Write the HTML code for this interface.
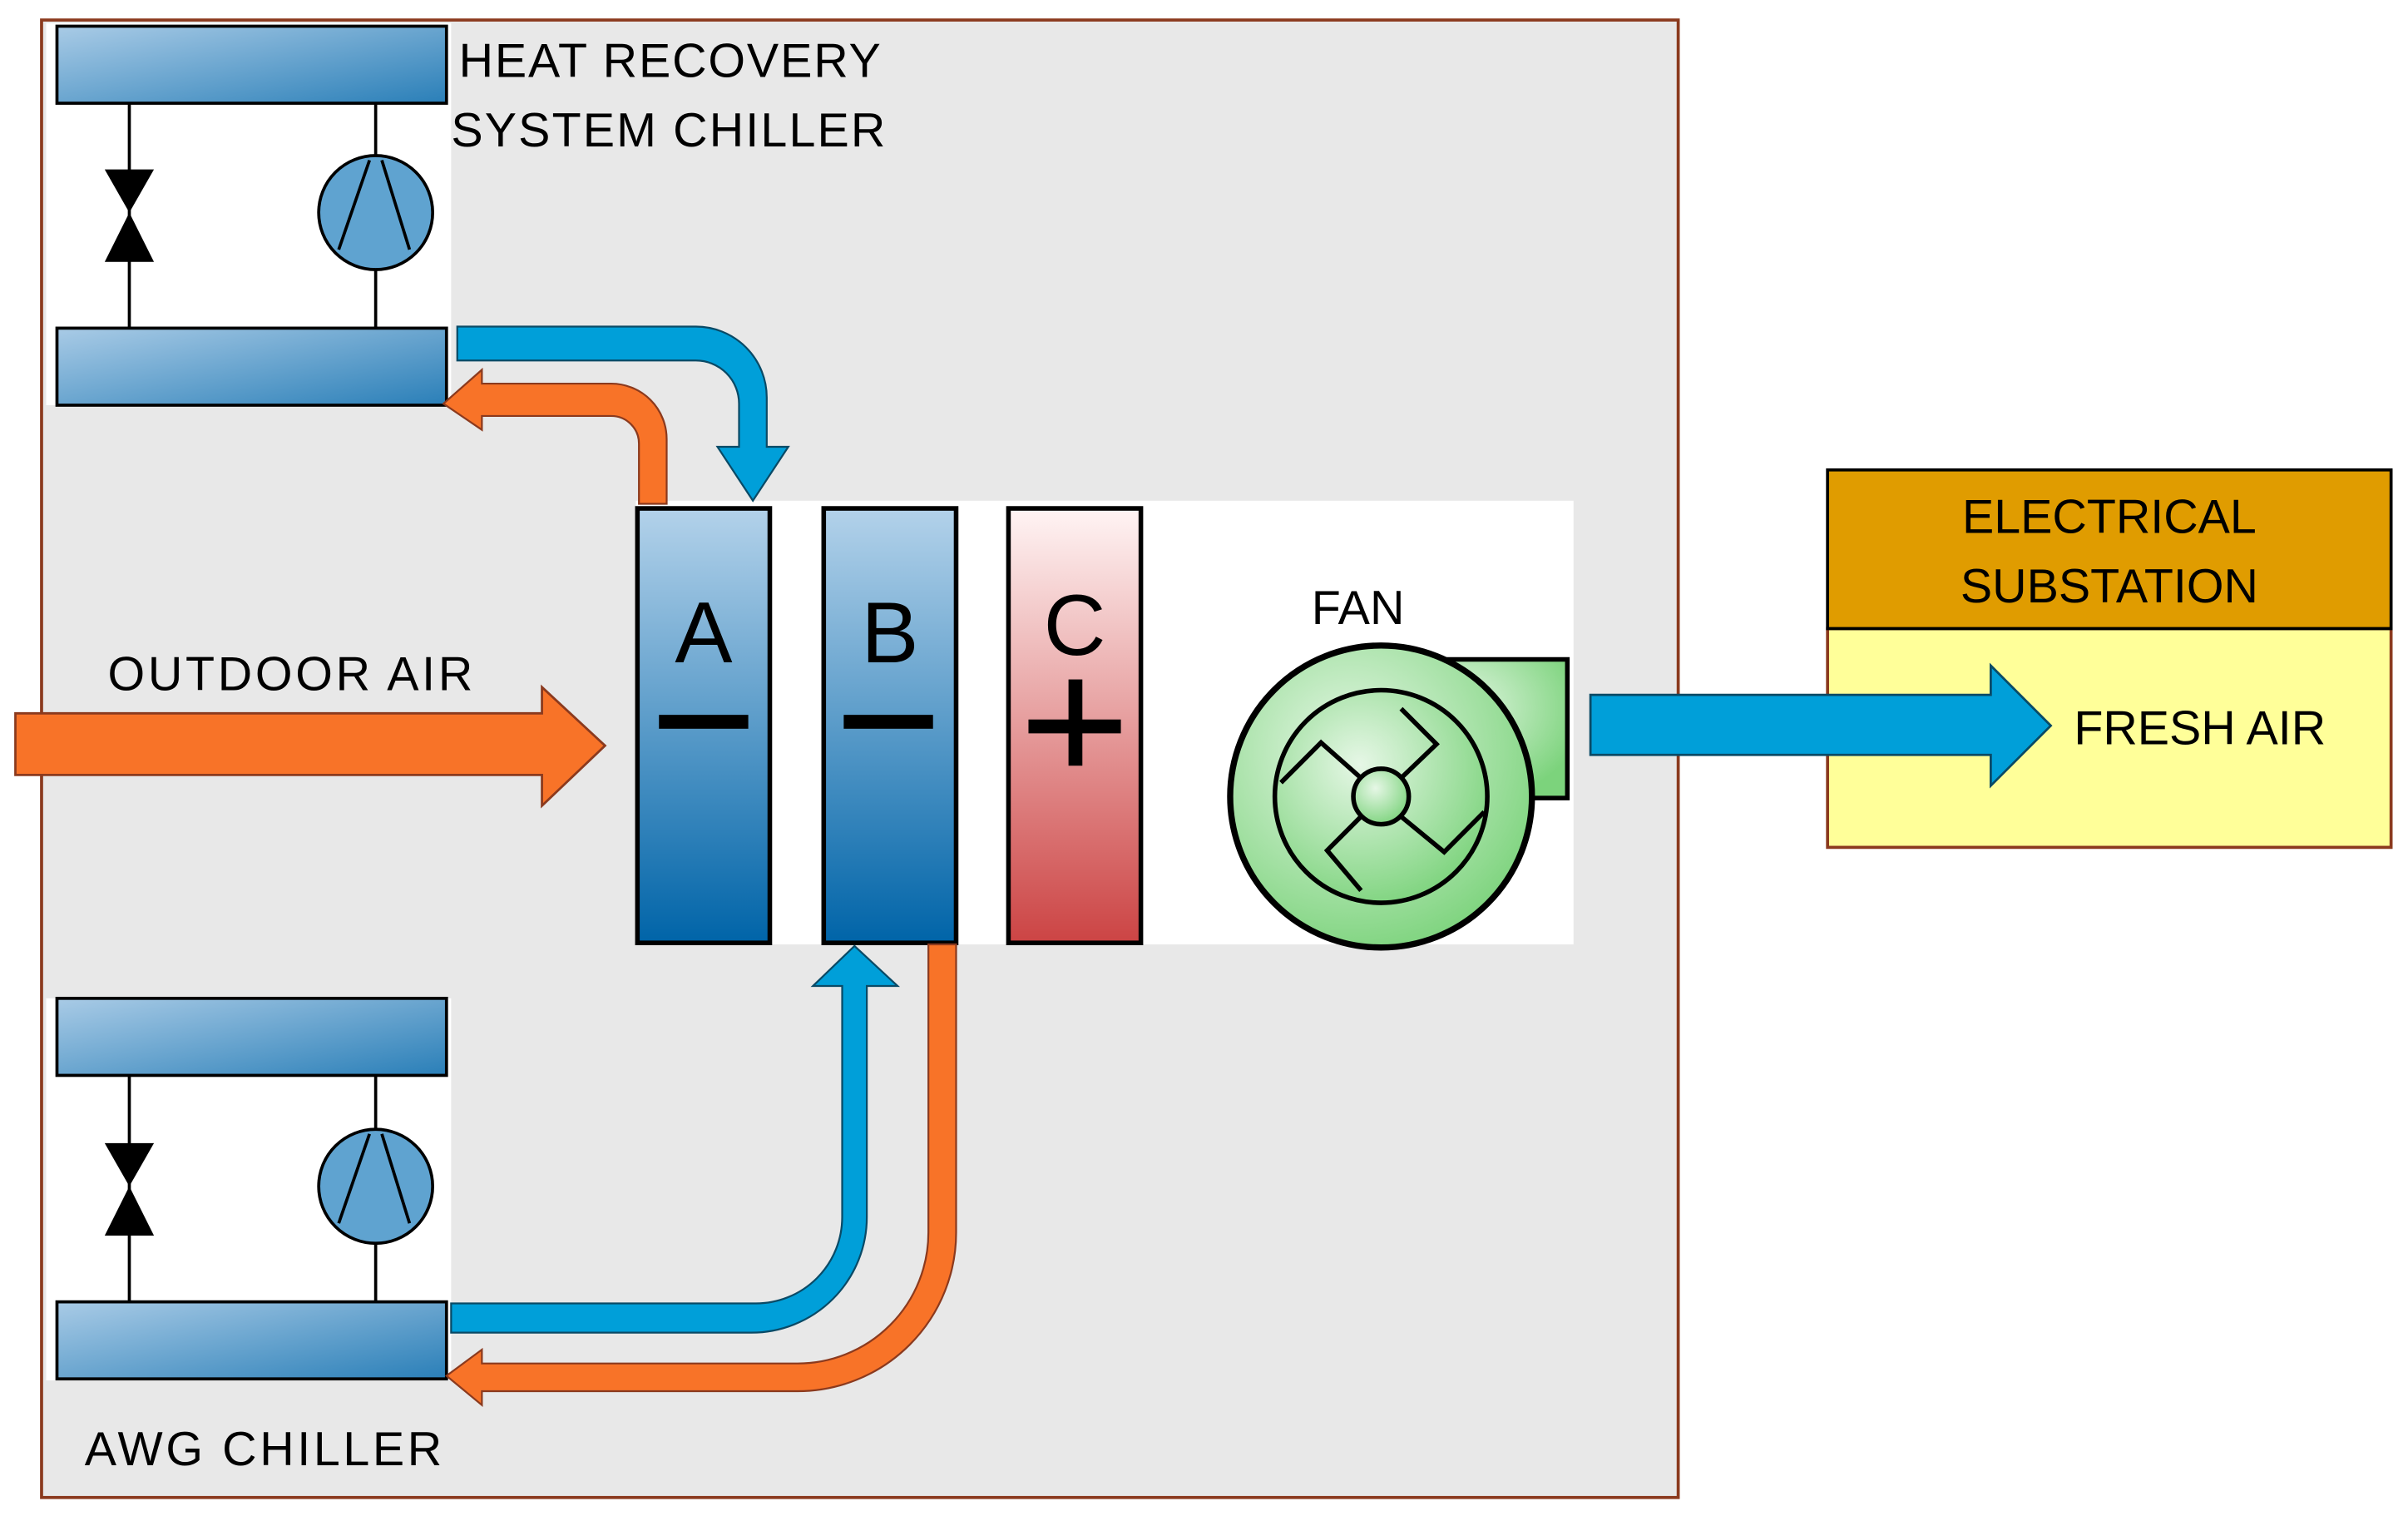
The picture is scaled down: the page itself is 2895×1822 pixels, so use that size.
<!DOCTYPE html>
<html><head><meta charset="utf-8"><style>html,body{margin:0;padding:0;background:#fff}svg{display:block}</style></head><body>
<svg width="2895" height="1822" viewBox="0 0 1564 984" preserveAspectRatio="none" xmlns="http://www.w3.org/2000/svg" font-family="Liberation Sans, sans-serif">
<defs>
<linearGradient id="coil" x1="0" y1="0" x2="1" y2="1"><stop offset="0" stop-color="#a9cbe6"/><stop offset="1" stop-color="#2a7fb8"/></linearGradient>
<linearGradient id="col" x1="0" y1="0" x2="0" y2="1"><stop offset="0" stop-color="#b3d2ea"/><stop offset="1" stop-color="#0064a8"/></linearGradient>
<linearGradient id="red" x1="0" y1="0" x2="0" y2="1"><stop offset="0" stop-color="#fff4f4"/><stop offset="1" stop-color="#cc4444"/></linearGradient>
<radialGradient id="grn" cx="0.4" cy="0.35" r="0.7"><stop offset="0" stop-color="#e6f7e6"/><stop offset="1" stop-color="#7cd37c"/></radialGradient>
</defs>
<rect x="27" y="13" width="1063" height="959" fill="#e8e8e8" stroke="#8b3a1e" stroke-width="2"/>
<!-- top chiller -->
<rect x="30" y="15" width="263" height="248" fill="#fff"/>
<line x1="84" y1="67" x2="84" y2="213" stroke="#000" stroke-width="2"/>
<line x1="244" y1="67" x2="244" y2="213" stroke="#000" stroke-width="2"/>
<polygon points="68,110 100,110 84,138" fill="#000"/><polygon points="68,170 100,170 84,138" fill="#000"/>
<circle cx="244" cy="138" r="37" fill="#5fa3d0" stroke="#000" stroke-width="2"/>
<path d="M220,162 L240,104 M248,104 L266,162" stroke="#000" stroke-width="2" fill="none"/>
<rect x="37" y="17" width="253" height="50" fill="url(#coil)" stroke="#000" stroke-width="2"/>
<rect x="37" y="213" width="253" height="50" fill="url(#coil)" stroke="#000" stroke-width="2"/>
<!-- bottom chiller -->
<rect x="30" y="648" width="263" height="248" fill="#fff"/>
<line x1="84" y1="698" x2="84" y2="845" stroke="#000" stroke-width="2"/>
<line x1="244" y1="698" x2="244" y2="845" stroke="#000" stroke-width="2"/>
<polygon points="68,742 100,742 84,770" fill="#000"/><polygon points="68,802 100,802 84,770" fill="#000"/>
<circle cx="244" cy="770" r="37" fill="#5fa3d0" stroke="#000" stroke-width="2"/>
<path d="M220,794 L240,736 M248,736 L266,794" stroke="#000" stroke-width="2" fill="none"/>
<rect x="37" y="648" width="253" height="50" fill="url(#coil)" stroke="#000" stroke-width="2"/>
<rect x="37" y="845" width="253" height="50" fill="url(#coil)" stroke="#000" stroke-width="2"/>
<!-- components area -->
<rect x="413" y="325" width="609" height="288" fill="#fff"/>
<rect x="414" y="330" width="86" height="282" fill="url(#col)" stroke="#000" stroke-width="3"/>
<rect x="535" y="330" width="86" height="282" fill="url(#col)" stroke="#000" stroke-width="3"/>
<rect x="655" y="330" width="86" height="282" fill="url(#red)" stroke="#000" stroke-width="3"/>
<text x="457" y="430" font-size="56" text-anchor="middle">A</text>
<text x="578" y="430" font-size="56" text-anchor="middle">B</text>
<text x="698" y="425" font-size="56" text-anchor="middle">C</text>
<rect x="428" y="464" width="58" height="9" fill="#000"/>
<rect x="548" y="464" width="58" height="9" fill="#000"/>
<rect x="668" y="467" width="60" height="9" fill="#000"/><rect x="694" y="441" width="9" height="56" fill="#000"/>
<text x="882" y="405" font-size="31" text-anchor="middle">FAN</text>
<!-- fan -->
<path d="M897,428 L1018,428 L1018,518 L960,518 Z" fill="url(#grn)" stroke="#000" stroke-width="3"/>
<circle cx="897" cy="517" r="98" fill="url(#grn)" stroke="#000" stroke-width="4"/>
<circle cx="897" cy="517" r="69" fill="url(#grn)" stroke="#000" stroke-width="3"/>
<circle cx="897" cy="517" r="18" fill="url(#grn)" stroke="#000" stroke-width="3"/>
<path d="M884,505 L858,482 L832,508 M910,505 L933,483 L910,460 M910,530 L938,553 L964,527 M884,530 L862,552 L884,578" stroke="#000" stroke-width="3" fill="none"/>
<!-- outdoor air arrow -->
<polygon points="10,463 352,463 352,446 393,484 352,523 352,503 10,503" fill="#f87328" stroke="#8b3a1e" stroke-width="1.5"/>
<text x="70" y="448" font-size="31" textLength="237">OUTDOOR AIR</text>
<!-- electrical substation -->
<rect x="1187" y="408" width="366" height="142" fill="#ffff99" stroke="#8b3a1e" stroke-width="2"/>
<rect x="1187" y="305" width="366" height="103" fill="#e09c00" stroke="#000" stroke-width="2"/>
<text x="1370" y="346" font-size="31" text-anchor="middle">ELECTRICAL</text>
<text x="1370" y="391" font-size="31" text-anchor="middle">SUBSTATION</text>
<text x="1347" y="483" font-size="31">FRESH AIR</text>
<!-- fresh air arrow -->
<polygon points="1033,451 1293,451 1293,432 1332,471 1293,510 1293,490 1033,490" fill="#009fd9" stroke="#0a4a66" stroke-width="1.5"/>
<!-- top blue flow -->
<path d="M297,212 L452,212 A46,46 0 0 1 498,258 L498,290 L512,290 L489,325 L466,290 L480,290 L480,262 A28,28 0 0 0 452,234 L297,234 Z" fill="#009fd9" stroke="#0a4a66" stroke-width="1.2"/>
<!-- top orange flow -->
<path d="M433,327 L433,285 A36,36 0 0 0 397,249 L313,249 L313,240 L288,262 L313,279 L313,270 L397,270 A18,18 0 0 1 415,288 L415,327 Z" fill="#f87328" stroke="#8b3a1e" stroke-width="1.2"/>
<!-- bottom blue flow -->
<path d="M547,640 L528,640 L555,614 L583,640 L563,640 L563,790 A75,75 0 0 1 488,865 L293,865 L293,846 L491,846 A56,56 0 0 0 547,790 Z" fill="#009fd9" stroke="#0a4a66" stroke-width="1.2"/>
<!-- bottom orange flow -->
<path d="M603,613 L621,613 L621,800 A103,103 0 0 1 518,903 L313,903 L313,912 L290,893 L313,876 L313,885 L518,885 A85,85 0 0 0 603,800 Z" fill="#f87328" stroke="#8b3a1e" stroke-width="1.2"/>
<text x="298" y="50" font-size="31" textLength="274">HEAT RECOVERY</text>
<text x="293" y="95" font-size="31" textLength="282">SYSTEM CHILLER</text>
<text x="55" y="951" font-size="31" textLength="232">AWG CHILLER</text>
</svg>
</body></html>
